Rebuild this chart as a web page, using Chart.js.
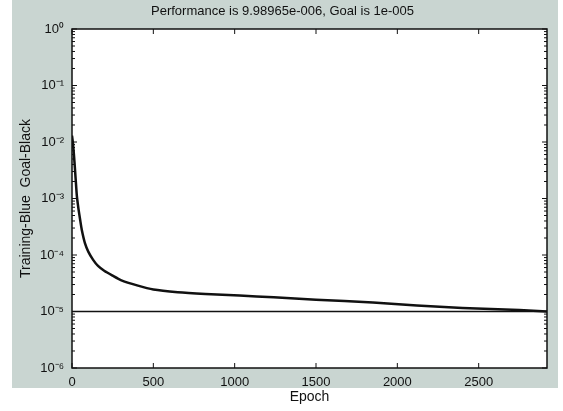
<!DOCTYPE html>
<html>
<head>
<meta charset="utf-8">
<script src="https://cdn.jsdelivr.net/npm/chart.js@4.4.0/dist/chart.umd.min.js"></script>
<style>
  html, body { margin: 0; padding: 0; background: #fff; }
  #wrap { width: 563px; height: 411px; position: relative; }
</style>
</head>
<body>
<div id="wrap"><canvas id="perfChart"></canvas></div>
<script>
// training record
const epochs = [0, 5, 10, 15, 20, 30, 40, 50, 60, 80, 100, 130, 160, 200, 250, 300, 400, 500, 650, 820, 1030, 1240, 1500, 1850, 2120, 2400, 2750, 2920];
const trainPerf = [1.3e-2, 1.0e-2, 7e-3, 4.5e-3, 2.8e-3, 1.1e-3, 6.5e-4, 4.2e-4, 2.8e-4, 1.6e-4, 1.15e-4, 8.2e-5, 6.4e-5, 5.2e-5, 4.3e-5, 3.6e-5, 2.9e-5, 2.45e-5, 2.2e-5, 2.05e-5, 1.92e-5, 1.78e-5, 1.62e-5, 1.45e-5, 1.28e-5, 1.15e-5, 1.06e-5, 9.99e-6];
const goalEpochs = [0, 2920];
const goalValues = [1e-5, 1e-5];
const xTicks = [0, 500, 1000, 1500, 2000, 2500];
const yTicks = [1e-6, 1e-5, 1e-4, 1e-3, 1e-2, 1e-1, 1];

const sup = { '-': '\u207B', '0': '\u2070', '1': '\u00B9', '2': '\u00B2', '3': '\u00B3', '4': '\u2074', '5': '\u2075', '6': '\u2076' };
function powLabel(v) {
  const e = String(Math.round(Math.log10(v)));
  return '10' + e.split('').map(c => sup[c]).join('');
}

// grey scanned backdrop + white axes box
const backdrop = {
  id: 'backdrop',
  beforeDraw(chart) {
    const ctx = chart.ctx, a = chart.chartArea;
    ctx.save();
    ctx.fillStyle = '#c9d5d1';
    ctx.fillRect(12, 0, 546, 388);
    ctx.fillStyle = '#ffffff';
    ctx.fillRect(a.left, a.top, a.right - a.left, a.bottom - a.top);
    ctx.restore();
  },
  afterDraw(chart) {
    const ctx = chart.ctx, a = chart.chartArea;
    const xs = chart.scales.x, ys = chart.scales.y;
    ctx.save();
    ctx.strokeStyle = '#111';
    ctx.lineWidth = 1.5;
    ctx.strokeRect(a.left, a.top, a.right - a.left, a.bottom - a.top);
    // inward ticks, matlab style
    ctx.lineWidth = 1;
    ctx.beginPath();
    xTicks.forEach(v => {
      const px = xs.getPixelForValue(v);
      ctx.moveTo(px, a.bottom); ctx.lineTo(px, a.bottom - 5);
      ctx.moveTo(px, a.top); ctx.lineTo(px, a.top + 5);
    });
    yTicks.forEach(v => {
      const py = ys.getPixelForValue(v);
      ctx.moveTo(a.left, py); ctx.lineTo(a.left + 5, py);
      ctx.moveTo(a.right, py); ctx.lineTo(a.right - 5, py);
    });
    ctx.stroke();
    // minor log ticks
    ctx.beginPath();
    for (let i = 0; i < yTicks.length - 1; i++) {
      for (let m = 2; m < 10; m++) {
        const py = ys.getPixelForValue(yTicks[i] * m);
        ctx.moveTo(a.left, py); ctx.lineTo(a.left + 3, py);
        ctx.moveTo(a.right, py); ctx.lineTo(a.right - 3, py);
      }
    }
    ctx.stroke();
    ctx.restore();
  }
};

const family = 'Liberation Sans, Arial, sans-serif';
const tickFont = { family: family, size: 13 };
const labelFont = { family: family, size: 14 };

new Chart(document.getElementById('perfChart'), {
  type: 'line',
  data: {
    datasets: [
      {
        label: 'Training',
        data: epochs.map((e, i) => ({ x: e, y: trainPerf[i] })),
        borderColor: '#111',
        borderWidth: 2.5,
        pointRadius: 0,
        tension: 0.2
      },
      {
        label: 'Goal',
        data: goalEpochs.map((e, i) => ({ x: e, y: goalValues[i] })),
        borderColor: '#111',
        borderWidth: 1.6,
        pointRadius: 0
      }
    ]
  },
  options: {
    responsive: true,
    maintainAspectRatio: false,
    animation: false,
    layout: { padding: { left: 18, right: 16, top: 0, bottom: 0 } },
    plugins: {
      legend: { display: false },
      tooltip: { enabled: false },
      title: {
        display: true,
        text: 'Performance is 9.98965e-006, Goal is 1e-005',
        color: '#111',
        font: { family: family, size: 13, weight: 'normal' },
        padding: { top: 4, bottom: 9.4 }
      }
    },
    scales: {
      x: {
        type: 'linear',
        min: 0,
        max: 2920,
        afterBuildTicks: s => { s.ticks = xTicks.map(v => ({ value: v })); },
        afterFit: s => { s.height = 43; },
        grid: { display: false, drawTicks: false },
        border: { display: false },
        ticks: { color: '#111', font: tickFont, padding: 7, maxRotation: 0, callback: v => String(v) },
        title: { display: true, text: 'Epoch', color: '#111', font: labelFont, padding: { top: 0, bottom: 5 } }
      },
      y: {
        type: 'logarithmic',
        min: 1e-6,
        max: 1,
        afterBuildTicks: s => { s.ticks = yTicks.map(v => ({ value: v })); },
        afterFit: s => { s.width = 54; },
        grid: { display: false, drawTicks: false },
        border: { display: false },
        ticks: { color: '#111', font: tickFont, padding: 8, callback: v => powLabel(v) },
        title: { display: true, text: 'Training-Blue  Goal-Black', color: '#111', font: labelFont, padding: { top: 0, bottom: 4 } }
      }
    }
  },
  plugins: [backdrop]
});
</script>
</body>
</html>
